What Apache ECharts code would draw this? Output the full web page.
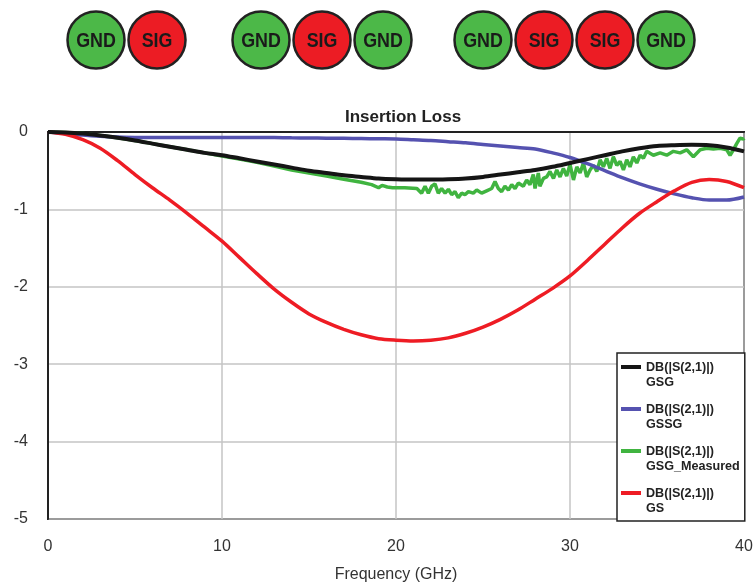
<!DOCTYPE html>
<html>
<head>
<meta charset="utf-8">
<script src="https://cdn.jsdelivr.net/npm/echarts@6/dist/echarts.min.js"></script>
<style>
html, body { margin: 0; padding: 0; background: #fff; }
#main { width: 756px; height: 588px; }
</style>
</head>
<body>
<div id="main"></div>
<script>
// simulated curves, 1 GHz steps
var freq = [0, 1, 2, 3, 4, 5, 6, 7, 8, 9, 10, 11, 12, 13, 14, 15, 16, 17, 18, 19, 20,
    21, 22, 23, 24, 25, 26, 27, 28, 29, 30, 31, 32, 33, 34, 35, 36, 37, 38, 39, 40];
var gsg = [0, -0.005, -0.02, -0.045, -0.075, -0.11, -0.15, -0.19, -0.23, -0.27, -0.30,
    -0.34, -0.38, -0.42, -0.46, -0.50, -0.53, -0.56, -0.58, -0.60, -0.61,
    -0.615, -0.615, -0.61, -0.60, -0.58, -0.55, -0.52, -0.49, -0.45, -0.40,
    -0.35, -0.30, -0.25, -0.21, -0.18, -0.17, -0.165, -0.17, -0.20, -0.25];
var gssg = [0, -0.02, -0.04, -0.055, -0.065, -0.07, -0.07, -0.07, -0.07, -0.07, -0.07,
    -0.07, -0.07, -0.072, -0.075, -0.077, -0.08, -0.082, -0.085, -0.088, -0.09,
    -0.10, -0.11, -0.125, -0.14, -0.16, -0.18, -0.20, -0.22, -0.27, -0.33,
    -0.41, -0.50, -0.59, -0.67, -0.74, -0.80, -0.85, -0.88, -0.88, -0.84];
var gs = [0, -0.03, -0.10, -0.21, -0.37, -0.55, -0.72, -0.88, -1.05, -1.23, -1.41,
    -1.62, -1.83, -2.03, -2.20, -2.35, -2.46, -2.55, -2.62, -2.67, -2.69,
    -2.70, -2.69, -2.66, -2.60, -2.52, -2.42, -2.30, -2.16, -2.02, -1.86,
    -1.66, -1.45, -1.24, -1.05, -0.90, -0.76, -0.65, -0.615, -0.64, -0.72];

// measured GSG (noisy above ~21 GHz)
var measFreq = [0, 1, 2, 3, 4, 5, 6, 7, 8, 9, 10, 11, 12, 13, 14, 15, 16, 17, 18, 18.6,
    19.0, 19.2, 19.5, 19.8, 20.5, 21.2,
    21.47, 21.67, 21.86, 22.05, 22.24, 22.43, 22.62, 22.82, 23.01, 23.2, 23.39, 23.58,
    23.77, 23.96, 24.16, 24.44, 24.64, 24.92, 25.21, 25.5, 25.69, 25.88, 26.07, 26.26,
    26.46, 26.65, 26.84, 27.03, 27.32, 27.51, 27.7, 27.89, 27.99, 28.18, 28.27, 28.47,
    28.66, 28.85, 29.05, 29.24, 29.43, 29.62, 29.81, 30.0, 30.2, 30.39, 30.58, 30.77,
    30.96, 31.15, 31.35, 31.54, 31.73, 31.92, 32.11, 32.3, 32.49, 32.69, 32.88, 33.07,
    33.26, 33.45, 33.64, 33.84, 34.03, 34.22, 34.41, 34.79, 35.18, 35.56, 35.94, 36.33,
    36.71, 37.09, 37.48, 37.86, 38.24, 38.63, 39.01, 39.2, 39.39, 39.58, 39.77, 39.97, 40];
var measDb = [0, -0.005, -0.02, -0.045, -0.075, -0.11, -0.15, -0.19, -0.23, -0.27, -0.31,
    -0.35, -0.39, -0.44, -0.49, -0.53, -0.57, -0.61, -0.65, -0.68,
    -0.72, -0.69, -0.71, -0.72, -0.72, -0.73,
    -0.79, -0.70, -0.79, -0.70, -0.67, -0.79, -0.73, -0.79, -0.74, -0.81, -0.77, -0.85,
    -0.79, -0.81, -0.77, -0.79, -0.75, -0.79, -0.76, -0.73, -0.64, -0.73, -0.77, -0.70,
    -0.75, -0.68, -0.73, -0.66, -0.70, -0.62, -0.68, -0.55, -0.73, -0.53, -0.70, -0.60,
    -0.58, -0.51, -0.60, -0.49, -0.58, -0.47, -0.57, -0.42, -0.62, -0.45, -0.53, -0.40,
    -0.58, -0.49, -0.43, -0.51, -0.36, -0.45, -0.34, -0.47, -0.32, -0.43, -0.38, -0.49,
    -0.36, -0.45, -0.32, -0.40, -0.30, -0.34, -0.25, -0.30, -0.27, -0.30, -0.25, -0.27,
    -0.23, -0.32, -0.23, -0.21, -0.22, -0.21, -0.23, -0.30, -0.23, -0.15, -0.08, -0.09, -0.08];

var seriesNames = ["DB(|S(2,1)|)\nGSG", "DB(|S(2,1)|)\nGSSG", "DB(|S(2,1)|)\nGSG_Measured", "DB(|S(2,1)|)\nGS"];
var seriesColors = ["#151515", "#5552b0", "#40b440", "#ee1c24"];

var xTicks = { min: 0, max: 40, step: 10 };
var yTicks = { min: -5, max: 0, step: 1 };

// pad rows shown above the chart
var padRows = [["GND", "SIG"], ["GND", "SIG", "GND"], ["GND", "SIG", "SIG", "GND"]];
var padStartX = [96, 261, 483];

function pairs(xs, ys) {
    var out = [];
    for (var i = 0; i < xs.length; i++) out.push([xs[i], ys[i]]);
    return out;
}

var graphics = [];
for (var r = 0; r < padRows.length; r++) {
    for (var k = 0; k < padRows[r].length; k++) {
        var lbl = padRows[r][k];
        var cx = padStartX[r] + k * 61;
        graphics.push({
            type: "circle",
            shape: { cx: cx, cy: 40, r: 28.5 },
            style: { fill: lbl === "GND" ? "#4cb848" : "#ec1c24", stroke: "#222", lineWidth: 2.5 }
        });
        graphics.push({
            type: "text",
            x: cx, y: 41,
            scaleX: 0.85,
            style: {
                text: lbl, fill: "#1a1a1a", align: "center", verticalAlign: "middle",
                fontSize: 21, fontWeight: "bold",
                fontFamily: "'Liberation Sans', Arial, sans-serif"
            }
        });
    }
}

var font = "'Liberation Sans', Arial, sans-serif";
var chart = echarts.init(document.getElementById("main"));

var lineStyleFor = function (i) {
    return { color: seriesColors[i], width: 3.5 };
};

var option = {
    animation: false,
    backgroundColor: "#fff",
    title: {
        text: "Insertion Loss",
        left: 398,
        top: 104,
        textAlign: "center",
        textStyle: { fontFamily: font, fontSize: 17, fontWeight: "bold", color: "#222" }
    },
    graphic: graphics,
    grid: {
        left: 48, right: 12, top: 132, bottom: 68,
        show: true, borderColor: "#222", borderWidth: 2, backgroundColor: "transparent"
    },
    legend: {
        orient: "vertical",
        left: 617,
        top: 353,
        padding: [7, 5, 5, 4],
        itemGap: 12,
        itemWidth: 20,
        itemHeight: 30,
        icon: "path://M0,5 L20,5 L20,9 L0,9 Z M0,0 L0,0 M0,30 L0,30",
        backgroundColor: "#fff",
        borderColor: "#222",
        borderWidth: 1.5,
        textStyle: { fontFamily: font, fontSize: 12.6, fontWeight: "bold", color: "#222", lineHeight: 15 },
        data: [0, 1, 2, 3].map(function (i) {
            return { name: seriesNames[i], itemStyle: { color: seriesColors[i] } };
        })
    },
    xAxis: {
        type: "value",
        min: xTicks.min, max: xTicks.max, interval: xTicks.step,
        name: "Frequency (GHz)",
        nameLocation: "middle",
        nameGap: 48,
        nameTextStyle: { fontFamily: font, fontSize: 16, color: "#333" },
        axisLine: { show: true, lineStyle: { color: "#222", width: 2 } },
        axisTick: { show: false },
        axisLabel: { fontFamily: font, fontSize: 16, color: "#333", margin: 20 },
        splitLine: { show: true, lineStyle: { color: "#c4c4c4", width: 1.5 } }
    },
    yAxis: {
        type: "value",
        min: yTicks.min, max: yTicks.max, interval: yTicks.step,
        axisLine: { show: true, lineStyle: { color: "#222", width: 2 } },
        axisTick: { show: false },
        axisLabel: { fontFamily: font, fontSize: 16, color: "#333", margin: 20 },
        splitLine: { show: true, lineStyle: { color: "#c4c4c4", width: 1.5 } }
    },
    series: [
        {
            name: seriesNames[2], type: "line", data: pairs(measFreq, measDb),
            symbol: "none", color: seriesColors[2], lineStyle: lineStyleFor(2)
        },
        {
            name: seriesNames[1], type: "line", data: pairs(freq, gssg), smooth: 0.3,
            symbol: "none", color: seriesColors[1], lineStyle: lineStyleFor(1)
        },
        {
            name: seriesNames[3], type: "line", data: pairs(freq, gs), smooth: 0.3,
            symbol: "none", color: seriesColors[3], lineStyle: lineStyleFor(3)
        },
        {
            name: seriesNames[0], type: "line", data: pairs(freq, gsg), smooth: 0.3,
            symbol: "none", color: seriesColors[0], lineStyle: { color: seriesColors[0], width: 4 }
        }
    ]
};
chart.setOption(option);
</script>
</body>
</html>
